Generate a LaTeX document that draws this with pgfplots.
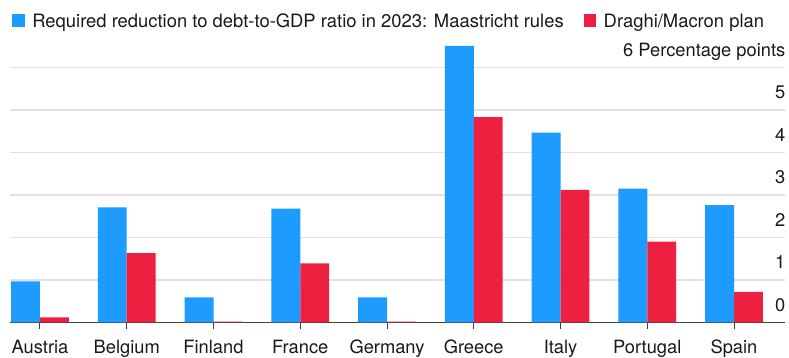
\documentclass[border=0pt]{standalone}
\usepackage{pgfplots}
\pgfplotsset{compat=1.18}
\usepackage{fontspec}
\setmainfont{TeX Gyre Heros}
\definecolor{bblue}{RGB}{29,155,255}
\definecolor{bred}{RGB}{237,32,64}
\definecolor{gridgray}{RGB}{225,225,225}
\definecolor{txt}{RGB}{25,25,25}
\begin{document}
\begin{tikzpicture}
\useasboundingbox (0,0) rectangle (789pt,358pt);
\begin{axis}[
  at={(10pt,35.5pt)}, anchor=south west,
  scale only axis,
  width=775pt, height=280.5pt,
  xmin=-0.3458, xmax=8.588,
  ymin=0, ymax=6.6,
  axis x line*=bottom,
  axis y line*=right,
  y axis line style={draw=none},
  x axis line style={draw=black!75, line width=1.2pt},
  ytick={0,1,2,3,4,5,6},
  yticklabels={0,1,2,3,4,5,6 Percentage points},
  ytick style={draw=none},
  ymajorgrids,
  grid style={draw=gridgray, line width=1.3pt},
  xtick={0,1,2,3,4,5,6,7,8},
  xticklabels={Austria,Belgium,Finland,France,Germany,Greece,Italy,Portugal,Spain},
  xtick style={draw=black!75, line width=1pt},
  tick align=outside,
  major tick length=7pt,
  tick label style={font=\fontsize{18.3}{21}\selectfont, text=txt, inner sep=0pt},
  xticklabel style={anchor=base, yshift=-24.5pt},
  yticklabel style={anchor=base east, xshift=-6.5pt, yshift=11.2pt},
  legend style={
    at={(0,1)}, anchor=north west, xshift=2.3pt, yshift=28pt,
    draw=none, fill=none, inner sep=0pt, outer sep=0pt,
    font=\fontsize{18.4}{21}\selectfont, text=txt,
    nodes={inner sep=0pt, text height=13.1pt, text depth=0pt},
    column sep=0pt,
    /tikz/every odd column/.style={column sep=7.3pt},
    /tikz/every even column/.style={column sep=20pt},
  },
  legend columns=2,
  legend cell align=left,
  legend image code/.code={\fill[#1] (0pt,-6.45pt) rectangle (12.7pt,6.45pt);},
]
\addplot[ybar, fill=bblue, draw=none, bar width=0.332, bar shift=-0.166] coordinates {
  (0,0.97) (1,2.71) (2,0.59) (3,2.68) (4,0.59) (5,6.51) (6,4.47) (7,3.15) (8,2.76)};
\addlegendentry{Required reduction to debt-to-GDP ratio in 2023: Maastricht rules}
\addplot[ybar, fill=bred, draw=none, bar width=0.332, bar shift=0.166] coordinates {
  (0,0.12) (1,1.63) (2,0.02) (3,1.39) (4,0.02) (5,4.83) (6,3.12) (7,1.90) (8,0.72)};
\addlegendentry{Draghi/Macron plan}
\end{axis}
\end{tikzpicture}
\end{document}
